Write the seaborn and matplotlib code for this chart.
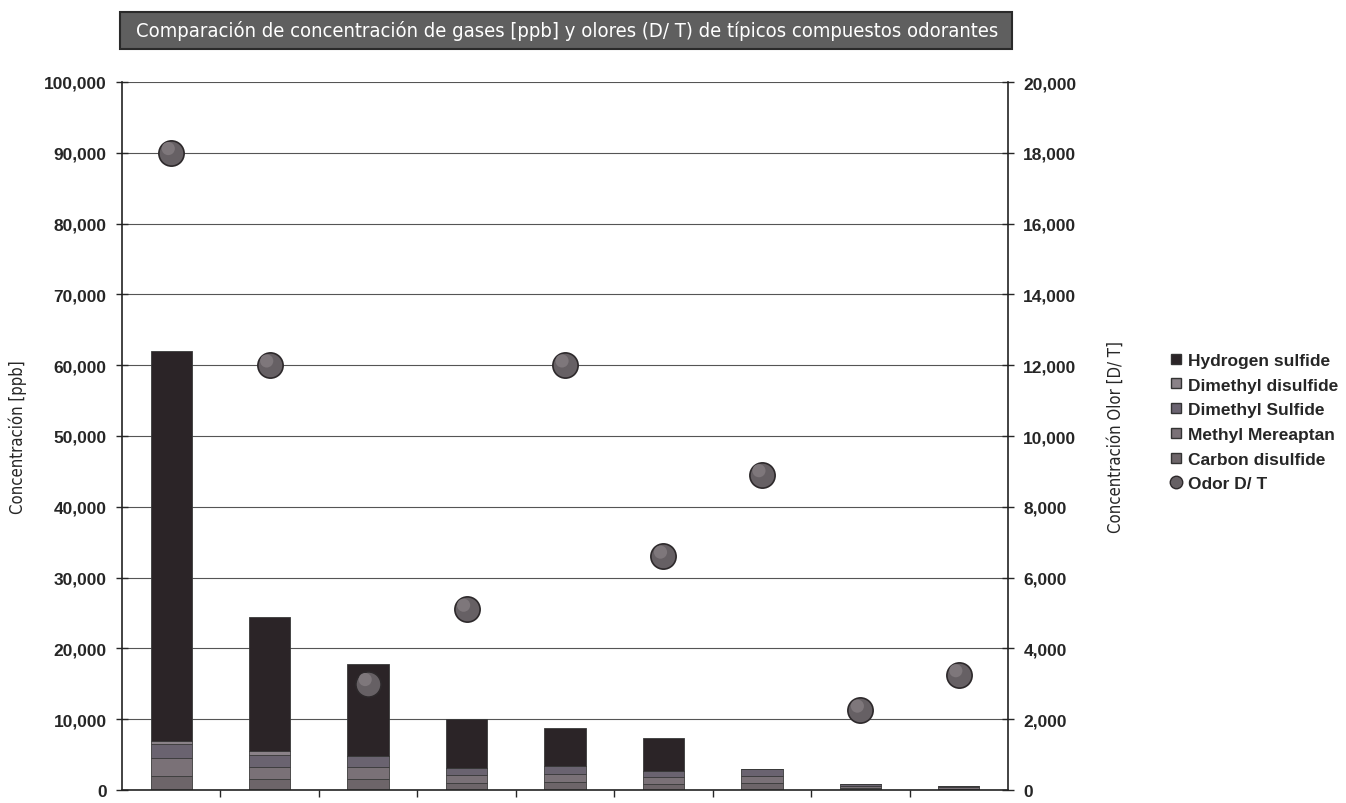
import numpy as np
import pandas as pd
import matplotlib
matplotlib.use("Agg")
import matplotlib.pyplot as plt
from matplotlib.patches import Rectangle
from matplotlib.lines import Line2D
from matplotlib.ticker import FuncFormatter
import seaborn as sns

# muestras (sin etiqueta en el eje x)
muestras = ["M1", "M2", "M3", "M4", "M5", "M6", "M7", "M8", "M9"]

# compuestos apilados, de abajo hacia arriba
carbon_disulfide = [2000, 1500, 1500, 1000, 1100, 900, 1000, 300, 200]
methyl_mercaptan = [2500, 1800, 1700, 1100, 1200, 900, 1000, 300, 200]
dimethyl_sulfide = [2000, 1600, 1600, 1000, 1100, 900, 1000, 200, 200]
dimethyl_disulfide = [400, 600, 0, 0, 0, 0, 0, 0, 0]
hydrogen_sulfide = [55100, 18900, 13000, 6900, 5400, 4600, 0, 0, 0]

# olor D/T (eje derecho)
odor_dt = [18000, 12000, 3000, 5100, 12000, 6600, 8900, 2250, 3250]

compuestos = [
    ("Carbon disulfide", carbon_disulfide, "#6d6569"),
    ("Methyl Mereaptan", methyl_mercaptan, "#7a7177"),
    ("Dimethyl Sulfide", dimethyl_sulfide, "#6a6370"),
    ("Dimethyl disulfide", dimethyl_disulfide, "#8a8288"),
    ("Hydrogen sulfide", hydrogen_sulfide, "#2b2427"),
]

sns.set_style("white")
plt.rcParams['font.family'] = ['Liberation Sans', 'DejaVu Sans']
narrow = dict(family=['DejaVu Sans'], stretch='condensed')

fig = plt.figure(figsize=(13.46, 8.04), dpi=100)
ax = fig.add_axes([122 / 1346, 1 - 791 / 804, 886 / 1346, 708 / 804])

base = np.zeros(len(muestras))
for nombre, vals, color in compuestos:
    df = pd.DataFrame({"muestra": muestras, "valor": vals})
    sns.barplot(data=df, x="muestra", y="valor", color=color, width=0.42,
                bottom=base, edgecolor="#3a3a3a", linewidth=0.6, ax=ax,
                saturation=1, errorbar=None)
    base = base + np.array(vals)

ax.set_xlim(-0.5, len(muestras) - 0.5)
ax.set_ylim(0, 100000)
ax.set_yticks(np.arange(0, 100001, 10000))
ax.yaxis.set_major_formatter(FuncFormatter(lambda v, p: f"{int(v):,}"))
ax.set_xticks(np.arange(0.5, len(muestras) - 0.5, 1))
ax.set_xticklabels([])
ax.set_xlabel("")
ax.set_ylabel("Concentración [ppb]", fontsize=12, labelpad=12, **narrow)
ax.tick_params(axis="y", direction="inout", length=8, width=1, labelsize=12.5, pad=7, left=True)
for lbl in ax.get_yticklabels():
    lbl.set_fontweight("bold")
ax.tick_params(axis="x", direction="out", length=5, width=1, bottom=True)
ax.yaxis.grid(True, color="#555555", linewidth=0.8)
ax.set_axisbelow(True)
for s in ["top", "right"]:
    ax.spines[s].set_visible(False)
for s in ["left", "bottom"]:
    ax.spines[s].set_color("#222222")
    ax.spines[s].set_linewidth(1.2)

ax2 = ax.twinx()
xpos = np.arange(len(muestras))
sns.scatterplot(x=xpos, y=odor_dt, ax=ax2, s=330, color="#666064",
                edgecolor="#2d292b", linewidth=1.2, zorder=5, legend=False)
sns.scatterplot(x=xpos - 0.03, y=np.array(odor_dt) + 120, ax=ax2, s=90,
                color="#7e777b", edgecolor="none", zorder=6, legend=False)
ax2.set_ylim(0, 20000)
ax2.set_xlim(-0.5, len(muestras) - 0.5)
ax2.set_yticks(np.arange(0, 20001, 2000))
ax2.yaxis.set_major_formatter(FuncFormatter(lambda v, p: f"{int(v):,}"))
ax2.tick_params(axis="y", direction="inout", length=8, width=1, labelsize=12.5, pad=7, right=True)
for lbl in ax2.get_yticklabels():
    lbl.set_fontweight("bold")
ax2.set_ylabel("Concentración Olor [D/ T]", fontsize=12, labelpad=22, **narrow)
for s in ["top", "left", "bottom"]:
    ax2.spines[s].set_visible(False)
ax2.spines["right"].set_color("#222222")
ax2.spines["right"].set_linewidth(1.2)

# leyenda
handles = []
for nombre, vals, color in reversed(compuestos):
    handles.append(Line2D([0], [0], marker="s", linestyle="", markersize=7,
                          markerfacecolor=color, markeredgecolor="#333333", label=nombre))
handles.append(Line2D([0], [0], marker="o", linestyle="", markersize=9,
                      markerfacecolor="#666064", markeredgecolor="#2d292b", label="Odor D/ T"))
fig.legend(handles=handles, loc="center left", bbox_to_anchor=(1152 / 1346, 1 - 423 / 804),
           frameon=False, prop={"weight": "bold", "size": 12.5}, handletextpad=0.15,
           labelspacing=0.55, handlelength=1.0)

# cabecera
fig.patches.append(Rectangle((120 / 1346, 1 - 50 / 804), 892 / 1346, 37 / 804,
                             transform=fig.transFigure, facecolor="#5f5f5f",
                             edgecolor="#2a2a2a", linewidth=1.5))
fig.text(567 / 1346, 1 - 31 / 804,
         "Comparación de concentración de gases [ppb] y olores (D/ T) de típicos compuestos odorantes",
         color="white", fontsize=14.5, ha="center", va="center", **narrow)

fig.savefig("out.png", dpi=100, facecolor="white")
